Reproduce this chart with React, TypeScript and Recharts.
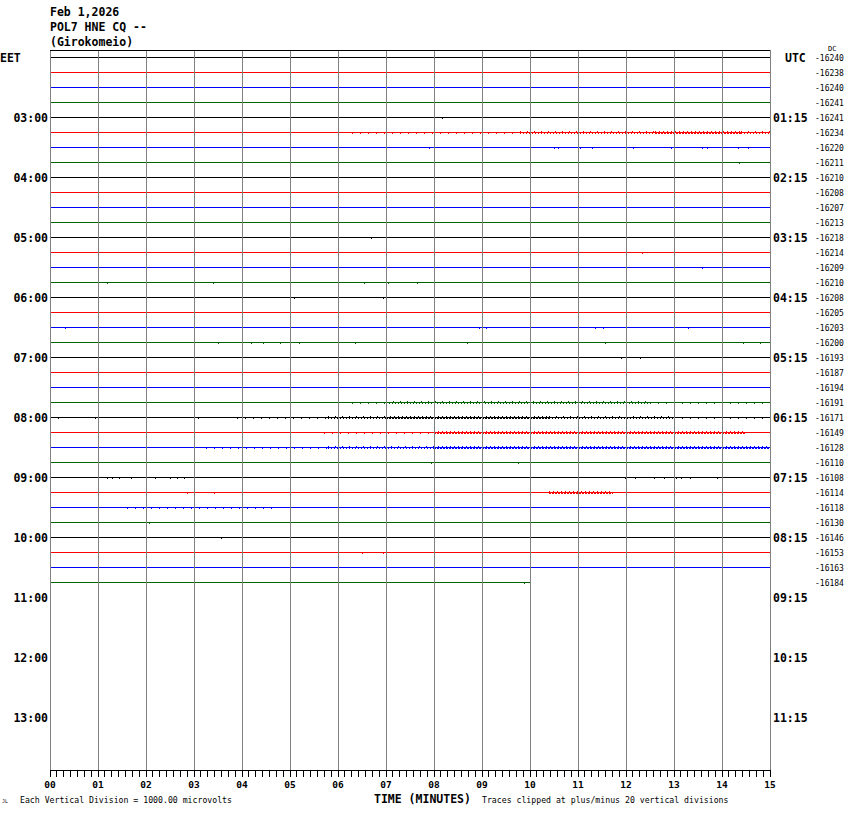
import React from 'react';
import { LineChart, Line, XAxis, YAxis, ReferenceLine } from 'recharts';

// helicorder: one trace per 15 minutes, 4 traces per hour
const minuteLabels = ['00', '01', '02', '03', '04', '05', '06', '07', '08', '09', '10', '11', '12', '13', '14', '15'];
const eetHours = ['03:00', '04:00', '05:00', '06:00', '07:00', '08:00', '09:00', '10:00', '11:00', '12:00', '13:00'];
const utcHours = ['01:15', '02:15', '03:15', '04:15', '05:15', '06:15', '07:15', '08:15', '09:15', '10:15', '11:15'];
const rowOffsets = [
  -16240, -16238, -16240, -16241, -16241, -16234, -16220, -16211, -16210, -16208, -16207, -16213,
  -16218, -16214, -16209, -16210, -16208, -16205, -16203, -16200, -16193, -16187, -16194, -16191,
  -16171, -16149, -16128, -16110, -16108, -16114, -16118, -16130, -16146, -16153, -16163, -16184,
];
const rowColors = ['#000000', '#ff0000', '#0000ff', '#006400'];
const totalRows = 48;
const lastTraceEnd = 10;

// [row, minute, deflection in trace spacings]
const spikes: [number, number, number][] = [
  [4, 8.17, 0.08],
  [6, 7.9, 0.1], [6, 10.5, 0.1], [6, 10.6, 0.1], [6, 11.06, 0.1], [6, 11.3, 0.1], [6, 12.15, 0.1],
  [6, 12.94, 0.1], [6, 13.6, 0.12], [6, 13.7, 0.12], [6, 14.35, 0.1], [6, 14.55, 0.1],
  [7, 14.37, 0.13],
  [12, 6.7, 0.08],
  [13, 12.35, 0.1],
  [14, 13.6, 0.12],
  [15, 1.2, 0.07], [15, 3.4, 0.07], [15, 6.55, 0.07], [15, 7.05, 0.07], [15, 7.65, 0.07], [15, 14.0, 0.07],
  [16, 5.1, 0.07], [16, 6.95, 0.07],
  [18, 0.33, 0.1], [18, 8.94, 0.1], [18, 9.1, 0.1], [18, 11.37, 0.1], [18, 11.54, 0.1], [18, 13.3, 0.1],
  [19, 1.02, 0.07], [19, 3.5, 0.07], [19, 4.2, 0.07], [19, 4.45, 0.07], [19, 4.8, 0.07], [19, 5.2, 0.07],
  [19, 6.37, 0.07], [19, 8.69, 0.07], [19, 11.58, 0.07], [19, 14.45, 0.07], [19, 14.8, 0.07],
  [20, 11.9, 0.13], [20, 12.0, 0.13], [20, 12.3, 0.1],
  [24, 0.17, 0.07], [24, 0.94, 0.07], [24, 2.0, 0.07], [24, 3.1, 0.07],
  [27, 7.95, 0.1], [27, 9.75, 0.1],
  [28, 1.2, 0.08], [28, 1.3, 0.08], [28, 1.45, 0.08], [28, 1.7, 0.08], [28, 2.2, 0.08], [28, 2.5, 0.08],
  [28, 2.65, 0.08], [28, 2.8, 0.08], [28, 11.98, 0.08], [28, 12.2, 0.08], [28, 12.6, 0.08], [28, 12.8, 0.08],
  [28, 13.05, 0.08], [28, 13.15, 0.08], [28, 13.35, 0.08], [28, 13.9, 0.08],
  [29, 2.87, 0.1], [29, 3.43, 0.1],
  [31, 2.08, 0.13],
  [32, 3.58, 0.08],
  [33, 6.52, 0.07], [33, 6.94, 0.07],
  [35, 9.88, 0.1],
];

// [row, start minute, end minute, level 1..3] stretches of background noise
const noise: [number, number, number, number][] = [
  [5, 6.3, 9.8, 1], [5, 9.8, 12.6, 2], [5, 12.6, 14.4, 3], [5, 14.4, 15, 2],
  [23, 6.3, 7.0, 1], [23, 7.0, 12.5, 2], [23, 12.5, 15, 1],
  [24, 3.9, 5.8, 1], [24, 5.8, 7.0, 2], [24, 7.0, 10.4, 3], [24, 10.4, 13.0, 2], [24, 13.0, 15, 1],
  [25, 5.7, 8.0, 1], [25, 8.0, 14.5, 3],
  [26, 3.25, 5.8, 1], [26, 5.8, 8.0, 2], [26, 8.0, 15, 3],
  [29, 10.4, 11.73, 3],
  [30, 1.6, 4.75, 1],
];

const noiseStyles: Record<number, { off: number; dash: string }[]> = {
  1: [{ off: 1, dash: '1 7' }],
  2: [{ off: 1, dash: '1 2' }, { off: -1, dash: '1 6' }],
  3: [{ off: 1, dash: '2 1' }, { off: -1, dash: '1 3' }],
};

const minorTicks = minuteLabels
  .slice(0, -1)
  .flatMap((_, m) => [0, 1, 2, 3, 4, 5, 6].map((k) => m + k / 7))
  .concat([15]);

const leftTicks = [0.5].concat(eetHours.map((_, i) => (i + 1) * 4 + 0.5));
const rightTicks = Array.from({ length: totalRows }, (_, i) => i + 0.5);

const buildTrace = (row: number) => {
  const base = row + 0.5;
  const end = row === rowOffsets.length - 1 ? lastTraceEnd : 15;
  const pts = [{ t: 0, v: base }];
  spikes
    .filter((s) => s[0] === row)
    .sort((a, b) => a[1] - b[1])
    .forEach(([, t, a]) => {
      pts.push({ t, v: base }, { t, v: base + a }, { t, v: base });
    });
  pts.push({ t: end, v: base });
  return pts;
};

const mono = '"DejaVu Sans Mono", monospace';

const LeftTick = (props: any) => {
  const row = Math.round(props.payload.value - 0.5);
  const y = props.y;
  if (row === 0) {
    return (
      <text x={0} y={y + 4} fontFamily={mono} fontWeight="bold" fontSize={11.5} fill="#000">
        EET
      </text>
    );
  }
  return (
    <text x={48} y={y + 4.5} textAnchor="end" fontFamily={mono} fontWeight="bold" fontSize={11.5} fill="#000">
      {eetHours[row / 4 - 1]}
    </text>
  );
};

const RightTick = (props: any) => {
  const row = Math.round(props.payload.value - 0.5);
  const y = props.y;
  return (
    <g>
      {row % 4 === 0 && (
        <text
          x={row === 0 ? 785 : 773}
          y={y + 4.5}
          fontFamily={mono}
          fontWeight="bold"
          fontSize={11.5}
          fill="#000"
        >
          {row === 0 ? 'UTC' : utcHours[row / 4 - 1]}
        </text>
      )}
      {row < rowOffsets.length && (
        <text x={815} y={y + 3.5} fontFamily={mono} fontSize={8} fill="#000">
          {rowOffsets[row]}
        </text>
      )}
    </g>
  );
};

const BottomTick = (props: any) => {
  const v = props.payload.value;
  const m = Math.round(v);
  if (Math.abs(v - m) > 1e-6) return <g />;
  return (
    <text x={props.x} y={788} textAnchor="middle" fontFamily={mono} fontWeight="bold" fontSize={9.5} fill="#000">
      {minuteLabels[m]}
    </text>
  );
};

export default function App() {
  const rows = rowOffsets.map((_, i) => i);
  return (
    <div style={{ position: 'absolute', left: 0, top: 0, width: 850, height: 814, background: '#fff' }}>
      <style>{'.heli line, .heli path { shape-rendering: crispEdges; }'}</style>
      <div className="heli">
        <LineChart width={850} height={814} margin={{ top: 50, right: 0, bottom: 0, left: 0 }}>
          <XAxis
            dataKey="t"
            type="number"
            domain={[0, 15]}
            ticks={minorTicks}
            interval={0}
            tickSize={7}
            height={44}
            axisLine={{ stroke: '#000' }}
            tickLine={{ stroke: '#000' }}
            tick={BottomTick}
            allowDataOverflow
          />
          <YAxis
            type="number"
            domain={[0, totalRows]}
            reversed
            width={50}
            ticks={leftTicks}
            interval={0}
            axisLine={false}
            tickLine={false}
            tick={LeftTick}
            allowDataOverflow
          />
          <YAxis
            yAxisId="r"
            orientation="right"
            type="number"
            domain={[0, totalRows]}
            reversed
            width={80}
            ticks={rightTicks}
            interval={0}
            axisLine={false}
            tickLine={false}
            tick={RightTick}
            allowDataOverflow
          />
          {rows.map((row) => (
            <Line
              key={`tr${row}`}
              data={buildTrace(row)}
              dataKey="v"
              type="linear"
              stroke={rowColors[row % 4]}
              strokeWidth={1}
              dot={false}
              activeDot={false}
              isAnimationActive={false}
            />
          ))}
          {noise.flatMap(([row, start, end, level], n) =>
            noiseStyles[level].map((s, j) => (
              <Line
                key={`nz${n}-${j}`}
                data={[
                  { t: start, v: row + 0.5 + s.off / 15 },
                  { t: end, v: row + 0.5 + s.off / 15 },
                ]}
                dataKey="v"
                type="linear"
                stroke={rowColors[row % 4]}
                strokeWidth={1}
                strokeDasharray={s.dash}
                dot={false}
                activeDot={false}
                isAnimationActive={false}
              />
            ))
          )}
          {minuteLabels.map((_, m) => (
            <ReferenceLine key={`g${m}`} x={m} stroke="#808080" strokeWidth={1} />
          ))}
          <ReferenceLine y={0} stroke="#000" strokeWidth={1} />
        </LineChart>
      </div>
      <svg width={850} height={814} style={{ position: 'absolute', left: 0, top: 0, pointerEvents: 'none' }}>
        <g fontFamily={mono} fontWeight="bold" fontSize={11.5} fill="#000">
          <text x={50} y={16}>Feb 1,2026</text>
          <text x={50} y={31}>POL7 HNE CQ --</text>
          <text x={50} y={45.5}>(Girokomeio)</text>
          <text x={374} y={803}>TIME (MINUTES)</text>
        </g>
        <g fontFamily={mono} fontSize={8.2} fill="#000">
          <text x={828} y={51} fontSize={7}>DC</text>
          <text x={20} y={803}>Each Vertical Division = 1000.00 microvolts</text>
          <text x={482} y={803}>Traces clipped at plus/minus 20 vertical divisions</text>
          <text x={2} y={803} fontSize={5}>JL</text>
        </g>
      </svg>
    </div>
  );
}
